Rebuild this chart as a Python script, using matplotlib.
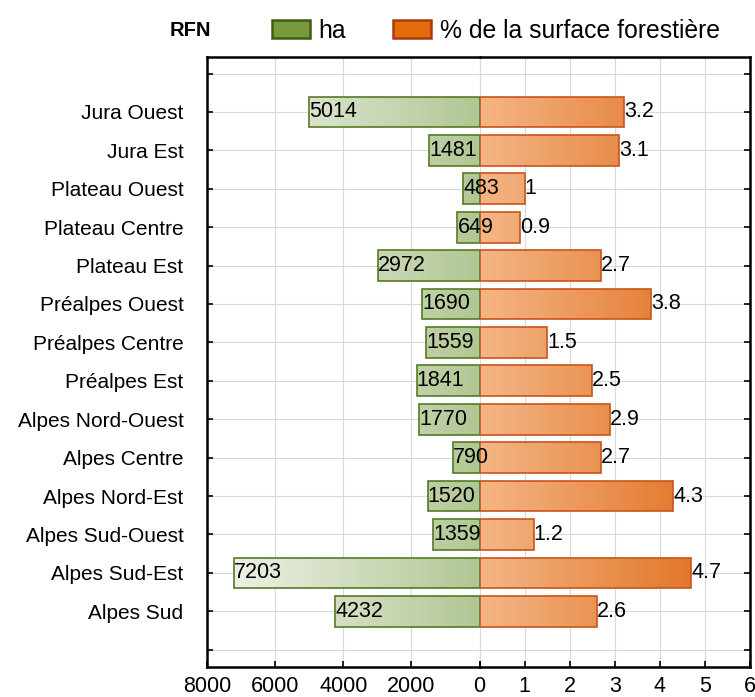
import numpy as np
import matplotlib
matplotlib.use("Agg")
import matplotlib.pyplot as plt
from matplotlib.colors import LinearSegmentedColormap
from matplotlib.patches import Rectangle
from matplotlib.path import Path

plt.rcParams['font.family'] = ['Liberation Sans', 'DejaVu Sans']

regions = ["Jura Ouest", "Jura Est", "Plateau Ouest", "Plateau Centre",
           "Plateau Est", "Préalpes Ouest", "Préalpes Centre", "Préalpes Est",
           "Alpes Nord-Ouest", "Alpes Centre", "Alpes Nord-Est",
           "Alpes Sud-Ouest", "Alpes Sud-Est", "Alpes Sud"]
ha = [5014, 1481, 483, 649, 2972, 1690, 1559, 1841, 1770, 790, 1520, 1359, 7203, 4232]
pct = [3.2, 3.1, 1, 0.9, 2.7, 3.8, 1.5, 2.5, 2.9, 2.7, 4.3, 1.2, 4.7, 2.6]
pct_labels = ["3.2", "3.1", "1", "0.9", "2.7", "3.8", "1.5", "2.5", "2.9", "2.7",
              "4.3", "1.2", "4.7", "2.6"]

FS = 15.5

fig = plt.figure(figsize=(7.55, 6.97), dpi=100)
x0, x_mid, x1 = 207 / 755, 479.5 / 755, 750 / 755
yb, yt = 1 - 667 / 697, 1 - 57 / 697
axl = fig.add_axes([x0, yb, x_mid - x0, yt - yb])
axr = fig.add_axes([x_mid, yb, x1 - x_mid, yt - yb], sharey=axl)
axl.set_zorder(2)
axr.set_zorder(1)
axl.patch.set_visible(False)
axr.patch.set_visible(False)

n = len(regions)
ypos = np.arange(n)
ylim = (14.45, -1.43)
bar_h = 0.8

green_cmap = LinearSegmentedColormap.from_list("g", ["#f3f6ee", "#b2c694"])
orange_cmap = LinearSegmentedColormap.from_list("o", ["#f4b686", "#dd6510"])
grad = np.linspace(0, 1, 256).reshape(1, -1)


def bars_path(bars):
    verts, codes = [], []
    for b in bars:
        p = b.get_path().transformed(b.get_patch_transform())
        verts.extend(p.vertices)
        codes.extend(p.codes)
    return Path(verts, codes)


for ax in (axl, axr):
    ax.set_ylim(*ylim)
    ax.set_yticks(np.arange(-1, n + 1))
    ax.grid(True, color="#d9d9d9", linewidth=0.8)
    ax.set_axisbelow(True)
    for s in ax.spines.values():
        s.set_linewidth(1.8)
    ax.tick_params(direction="in", length=4, width=1.2, labelsize=FS)
    ax.tick_params(axis="x", pad=6.5)

# left: ha
axl.set_xlim(8000, 0)
axl.set_xticks([8000, 6000, 4000, 2000, 0])
axl.set_xticklabels(["8000", "6000", "4000", "2000", ""])
axl.set_yticklabels([""] + regions + [""])
axl.tick_params(axis="y", pad=17, labelsize=15)
axl.spines["right"].set_visible(False)
axl.axvline(0, color="#d9d9d9", linewidth=0.8, zorder=0)

img = axl.imshow(grad, cmap=green_cmap, aspect="auto",
                 extent=(8000, 0, ylim[0], ylim[1]), zorder=2)
bars = axl.barh(ypos, ha, height=bar_h, color="none",
                edgecolor="#557a24", linewidth=1.2, zorder=3)
img.set_clip_path(bars_path(bars), axl.transData)
for y, v in zip(ypos, ha):
    axl.text(v, y, str(v), ha="left", va="center", fontsize=FS, zorder=4,
             clip_on=False)

# right: %
axr.set_xlim(0, 6)
axr.set_xticks([0, 1, 2, 3, 4, 5, 6])
axr.tick_params(axis="y", left=False, labelleft=False, right=True)
axr.spines["left"].set_visible(False)

img2 = axr.imshow(grad, cmap=orange_cmap, aspect="auto",
                  extent=(0, 6, ylim[0], ylim[1]), zorder=2)
bars2 = axr.barh(ypos, pct, height=bar_h, color="none",
                 edgecolor="#c9541b", linewidth=1.2, zorder=3)
img2.set_clip_path(bars_path(bars2), axr.transData)
for y, v, lab in zip(ypos, pct, pct_labels):
    axr.text(v, y, lab, ha="left", va="center", fontsize=FS, zorder=4)

# legend on top
fig.text(170 / 755, 1 - 30 / 697, "RFN", fontsize=14.5, fontweight="bold", va="center")
fig.patches.append(Rectangle((272 / 755, 1 - 38 / 697), 38 / 755, 18 / 697,
                             transform=fig.transFigure, facecolor="#789a3d",
                             edgecolor="#3e5c12", linewidth=1.8))
fig.text(318 / 755, 1 - 31 / 697, "ha", fontsize=17.8, va="center")
fig.patches.append(Rectangle((393 / 755, 1 - 38 / 697), 38 / 755, 18 / 697,
                             transform=fig.transFigure, facecolor="#e46c0c",
                             edgecolor="#a83a0c", linewidth=1.8))
fig.text(440 / 755, 1 - 31 / 697, "% de la surface forestière", fontsize=17.8,
         va="center")

fig.savefig("out.png", dpi=100)
